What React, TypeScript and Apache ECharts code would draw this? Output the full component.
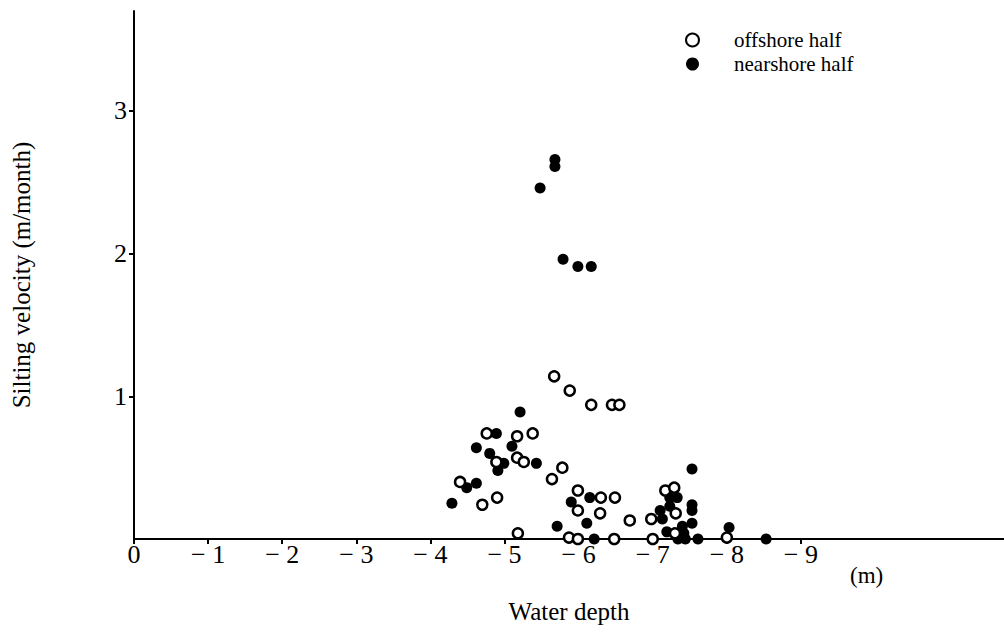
import React, { useEffect, useRef } from "react";
import * as echarts from "echarts";

// Water depth (m, negative) and silting velocity (m/month)
const offshoreDepth = [
  -5.67, -5.88, -6.17, -6.45, -6.55, -4.76, -5.17, -5.38, -5.17, -5.26, -4.89,
  -5.78, -5.64, -4.40, -5.99, -4.70, -4.90, -5.99, -6.30, -6.49, -6.29, -5.18,
  -5.87, -5.99, -6.48, -6.69, -6.98, -7.17, -7.29, -7.31, -7.30, -7.00, -8.00,
];
const offshoreVelocity = [
  1.14, 1.04, 0.94, 0.94, 0.94, 0.74, 0.72, 0.74, 0.57, 0.54, 0.54,
  0.50, 0.42, 0.40, 0.34, 0.24, 0.29, 0.20, 0.29, 0.29, 0.18, 0.04,
  0.01, 0.0, 0.0, 0.13, 0.14, 0.34, 0.36, 0.18, 0.04, 0.0, 0.01,
];
const nearshoreDepth = [
  -5.68, -5.68, -5.48, -5.79, -5.99, -6.17, -5.21, -4.89, -4.62, -5.10, -4.80,
  -4.99, -5.43, -4.91, -4.49, -4.62, -4.29, -5.90, -6.15, -5.71, -6.11, -6.21,
  -7.53, -7.10, -7.13, -7.23, -7.33, -7.23, -7.53, -7.53, -7.53, -7.40, -7.42,
  -7.19, -7.34, -7.44, -7.61, -8.03, -8.53,
];
const nearshoreVelocity = [
  2.66, 2.61, 2.46, 1.96, 1.91, 1.91, 0.89, 0.74, 0.64, 0.65, 0.60,
  0.53, 0.53, 0.48, 0.36, 0.39, 0.25, 0.26, 0.29, 0.09, 0.11, 0.0,
  0.49, 0.20, 0.14, 0.29, 0.29, 0.23, 0.24, 0.20, 0.11, 0.09, 0.04,
  0.05, 0.0, 0.0, 0.0, 0.08, 0.0,
];
const xTickValues = [0, -1, -2, -3, -4, -5, -6, -7, -8, -9];
const yTickValues = [1, 2, 3];
const seriesNames = ["offshore half", "nearshore half"];

const FONT = "'Liberation Serif', 'DejaVu Serif', serif";

export default function App() {
  const ref = useRef<HTMLDivElement>(null);
  useEffect(() => {
    if (!ref.current) return;
    const chart = echarts.init(ref.current, null, { renderer: "svg" });
    const off = offshoreDepth.map((d, i) => [d, offshoreVelocity[i]]);
    const near = nearshoreDepth.map((d, i) => [d, nearshoreVelocity[i]]);
    chart.setOption({
      animation: false,
      backgroundColor: "#fff",
      grid: { left: 134, right: 0, top: 11, bottom: 97 },
      legend: {
        orient: "vertical",
        left: 680,
        top: 23,
        itemWidth: 13,
        itemHeight: 13,
        itemGap: 0,
        textStyle: { fontFamily: FONT, fontSize: 21, lineHeight: 24, color: "#000", padding: [0, 0, 0, 30] },
        data: seriesNames,
      },
      xAxis: {
        type: "value",
        inverse: true,
        min: -11.74,
        max: 0,
        name: "Water depth",
        nameLocation: "middle",
        nameGap: 60,
        nameTextStyle: { fontFamily: FONT, fontSize: 25, color: "#000" },
        axisLine: { lineStyle: { color: "#000", width: 2 } },
        axisTick: { show: true, length: 5, customValues: xTickValues, lineStyle: { color: "#000", width: 2 } },
        axisLabel: {
          customValues: xTickValues,
          fontFamily: FONT,
          fontSize: 26,
          color: "#000",
          margin: 2,
          formatter: (v: number) => (v === 0 ? "0" : "\u2212 " + Math.abs(v)),
        },
        splitLine: { show: false },
      },
      yAxis: {
        type: "value",
        min: 0,
        max: 3.7,
        name: "Silting velocity (m/month)",
        nameLocation: "middle",
        nameGap: 100,
        nameTextStyle: { fontFamily: FONT, fontSize: 25, color: "#000" },
        axisLine: { show: true, lineStyle: { color: "#000", width: 2 } },
        axisTick: { show: true, length: 5, customValues: yTickValues, lineStyle: { color: "#000", width: 2 } },
        axisLabel: {
          customValues: yTickValues,
          fontFamily: FONT,
          fontSize: 26,
          color: "#000",
          margin: 7,
        },
        splitLine: { show: false },
      },
      graphic: [
        {
          type: "text",
          left: 850,
          top: 564,
          style: { text: "(m)", fontFamily: FONT, fontSize: 23, fill: "#000" },
        },
      ],
      series: [
        {
          name: seriesNames[0],
          type: "scatter",
          data: off,
          symbol: "circle",
          symbolSize: 10,
          itemStyle: { color: "#fff", borderColor: "#000", borderWidth: 2.5, opacity: 1 },
          z: 3,
        },
        {
          name: seriesNames[1],
          type: "scatter",
          data: near,
          symbol: "circle",
          symbolSize: 11,
          itemStyle: { color: "#000", opacity: 1 },
          z: 2,
        },
      ],
    });
    return () => chart.dispose();
  }, []);
  return (
    <div
      ref={ref}
      style={{ position: "absolute", left: 0, top: 0, width: 1004, height: 636 }}
    />
  );
}
